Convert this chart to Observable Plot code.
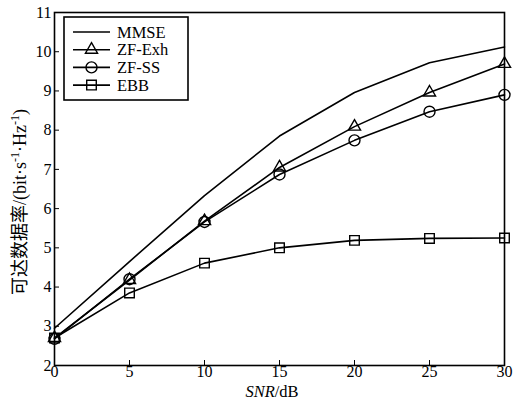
<!DOCTYPE html>
<html><head><meta charset="utf-8">
<script src="https://cdn.jsdelivr.net/npm/d3@7"></script>
<script src="https://cdn.jsdelivr.net/npm/@observablehq/plot@0.6"></script>
<style>body{margin:0;background:#fff}</style>
</head><body><div id="chart"></div>
<script>
const snr = [0, 5, 10, 15, 20, 25, 30];
const mmse = [2.95, 4.65, 6.33, 7.85, 8.96, 9.72, 10.12];
const zfExh = [2.70, 4.18, 5.68, 7.05, 8.09, 8.96, 9.69];
const zfSS = [2.68, 4.20, 5.66, 6.87, 7.74, 8.47, 8.90];
const ebb = [2.70, 3.85, 4.61, 5.00, 5.19, 5.24, 5.25];
const seriesNames = ["MMSE", "ZF-Exh", "ZF-SS", "EBB"];
const seriesSymbols = [null, "triangle", "circle", "square"];
const xTicks = [0, 5, 10, 15, 20, 25, 30];
const yTicks = [2, 3, 4, 5, 6, 7, 8, 9, 10, 11];

const symbolR = {triangle: 4.5, circle: 5.5, square: 5.4};
const allSeries = [mmse, zfExh, zfSS, ebb];
const data = [];
allSeries.forEach((vals, i) => vals.forEach((v, j) => data.push({name: seriesNames[i], x: snr[j], y: v, sym: seriesSymbols[i]})));

const serif = "'Liberation Serif', 'Times New Roman', serif";
const dotMarks = ["triangle", "circle", "square"].map(s =>
  Plot.dot(data.filter(d => d.sym === s), {x: "x", y: "y", symbol: s, r: symbolR[s], stroke: "#000", strokeWidth: 1.4, fill: "none"}));
const chart = Plot.plot({
  width: 518, height: 408,
  marginLeft: 54, marginRight: 14, marginTop: 12, marginBottom: 43,
  style: {fontFamily: serif, fontSize: "16px", color: "#000", background: "#fff"},
  x: {domain: [0, 30], ticks: xTicks},
  y: {domain: [2, 11], ticks: yTicks},
  marks: [
    Plot.axisX({ticks: xTicks, tickSize: -5, tickPadding: 5, label: null, fontSize: 16}),
    Plot.axisY({ticks: yTicks, tickSize: -5, tickPadding: 8, label: null, fontSize: 16}),
    Plot.line(data, {x: "x", y: "y", z: "name", stroke: "#000", strokeWidth: 1.6}),
    ...dotMarks,
    Plot.frame({stroke: "#000", strokeWidth: 1.6})
  ]
});
document.getElementById("chart").appendChild(chart);

const svg = d3.select(chart);
// x label
const xl = svg.append("text").attr("x", 272).attr("y", 397).attr("text-anchor", "middle")
  .attr("font-family", serif).attr("font-size", 16.5).attr("fill", "#000");
xl.append("tspan").attr("font-style", "italic").text("SNR");
xl.append("tspan").text("/dB");
// y label
const yl = svg.append("text").attr("transform", "translate(26,202) rotate(-90)").attr("text-anchor", "middle")
  .attr("font-size", 18).attr("fill", "#000");
yl.append("tspan").attr("font-family", "'Noto Sans CJK SC', sans-serif").text("可达数据率");
yl.append("tspan").attr("font-family", serif).text("/(bit·s");
yl.append("tspan").attr("font-family", serif).attr("font-size", 12).attr("dy", -7).text("-1");
yl.append("tspan").attr("font-family", serif).attr("dy", 7).text("·Hz");
yl.append("tspan").attr("font-family", serif).attr("font-size", 12).attr("dy", -7).text("-1");
yl.append("tspan").attr("font-family", serif).attr("dy", 7).text(")");

// legend
const lg = svg.append("g");
lg.append("rect").attr("x", 64).attr("y", 17).attr("width", 124).attr("height", 83)
  .attr("fill", "#fff").attr("stroke", "#000").attr("stroke-width", 1.6);
seriesNames.forEach((n, i) => {
  const y = 32 + i * 17.7;
  lg.append("line").attr("x1", 73).attr("x2", 110).attr("y1", y).attr("y2", y).attr("stroke", "#000").attr("stroke-width", 1.6);
  if (seriesSymbols[i]) {
    const sym = {triangle: d3.symbolTriangle, circle: d3.symbolCircle, square: d3.symbolSquare}[seriesSymbols[i]];
    const r = symbolR[seriesSymbols[i]];
    lg.append("path").attr("d", d3.symbol(sym, Math.PI * r * r)()).attr("transform", `translate(91.5,${y})`)
      .attr("fill", "none").attr("stroke", "#000").attr("stroke-width", 1.4);
  }
  lg.append("text").attr("x", 117).attr("y", y).attr("dy", "0.35em").attr("text-anchor", "start")
    .attr("font-family", serif).attr("font-size", 16.5).attr("fill", "#000").text(n);
});
</script></body></html>
